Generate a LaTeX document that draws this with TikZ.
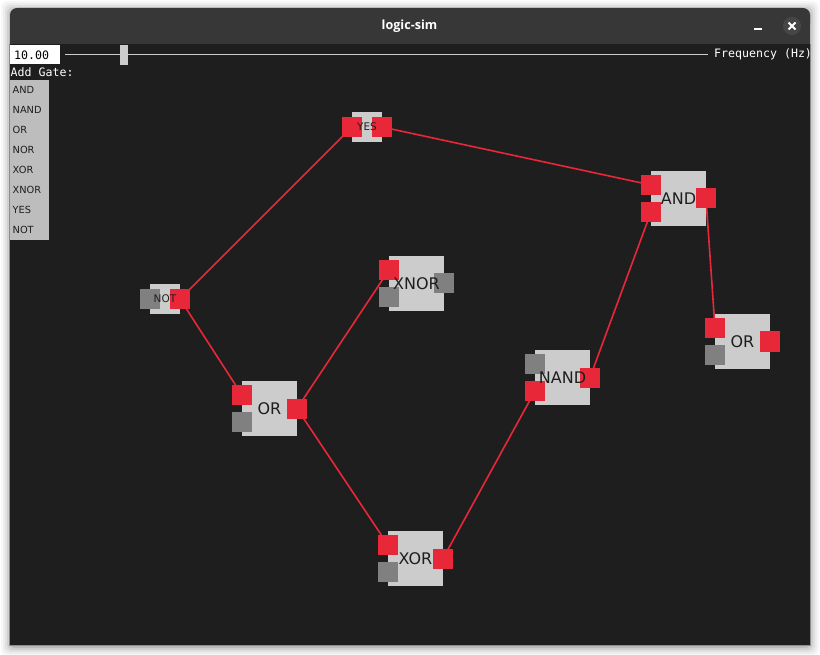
\documentclass[tikz,border=0pt]{standalone}
\usepackage{fontspec}
\setmainfont{DejaVu Sans}
\newfontfamily\monof{DejaVu Sans Mono}
\newfontfamily\titlef{Open Sans}
\pgfdeclarelayer{backl}
\pgfdeclarelayer{wirel}
\pgfsetlayers{backl,wirel,main}
\definecolor{winbg}{HTML}{1E1E1E}
\definecolor{titlebg}{HTML}{373737}
\definecolor{body}{HTML}{CCCCCC}
\definecolor{portred}{HTML}{E82838}
\definecolor{portgray}{HTML}{808080}
\definecolor{menubg}{HTML}{BDBDBD}
\definecolor{textdark}{HTML}{1E1E1E}
\tikzset{
  x=1pt,y=-1pt,
  gatebody/.style={fill=body,draw=none,inner sep=0pt,minimum size=55pt},
  smallbody/.style={gatebody,minimum size=30pt},
  on/.style={fill=portred,draw=none,inner sep=0pt,minimum size=20pt},
  off/.style={fill=portgray,draw=none,inner sep=0pt,minimum size=20pt},
  lab/.style={inner sep=0pt,text=textdark,font=\fontsize{16}{16}\selectfont},
  smalllab/.style={inner sep=0pt,text=textdark,font=\fontsize{10.5}{10.5}\selectfont},
  wire/.style={draw=portred,line width=1.6pt},
  menuitem/.style={inner sep=0pt,anchor=west,text=textdark,font=\fontsize{9.8}{11}\selectfont},
  mono/.style={inner sep=0pt,anchor=west,font=\monof\fontsize{11.6}{11.6}\selectfont},
}
\newcommand{\gate}[7]{%
  \node[gatebody] (#1) at (#3,#4) {};
  \node[#5] (#1a) at (#3-27.5,#4-13.5) {};
  \node[#6] (#1b) at (#3-27.5,#4+13.5) {};
  \node[#7] (#1o) at (#3+27.5,#4) {};
  \node[lab] (#1t) at (#3,#4) {#2};
}
\newcommand{\sgate}[6]{%
  \node[smallbody] (#1) at (#3,#4) {};
  \node[#5] (#1a) at (#3-15,#4) {};
  \node[#6] (#1o) at (#3+15,#4) {};
  \node[smalllab] (#1t) at (#3,#4) {#2};
}
\begin{document}
\begin{tikzpicture}
\useasboundingbox (0,0) rectangle (820,655);
\begin{pgfonlayer}{backl}
  \fill[white] (0,0) rectangle (820,655);
  \foreach \d/\o in {9/0.03,7/0.04,5/0.05,3/0.07,1/0.1}
    \fill[black,opacity=\o,rounded corners=6pt] (10-\d,8-\d+2) rectangle (810+\d,645+\d+2);
  \fill[titlebg,rounded corners=7pt] (10,8) rectangle (810,30);
  \fill[titlebg] (10,20) rectangle (810,44);
  \fill[winbg] (10,44) rectangle (810,645);
  \draw[color=gray!90,line width=0.6pt] (9.7,44) -- (9.7,645.3) -- (810.3,645.3) -- (810.3,44);
\end{pgfonlayer}

% title bar
\node[inner sep=0pt,text=white,font=\titlef\bfseries\fontsize{12.6}{13}\selectfont] (title) at (409.5,26) {logic-sim};
\fill[white] (754,28) rectangle (762,30);
\fill[gray!55!black] (792,26) circle (9);
\draw[white,line width=2pt] (788.5,22.5) -- (795.5,29.5) (795.5,22.5) -- (788.5,29.5);

% frequency control
\fill[white] (10,45) rectangle (60,64);
\node[mono,text=black] (freq) at (14,55.5) {10.00};
\draw[color=body,line width=1pt] (65,54.5) -- (708,54.5);
\fill[body] (120,45) rectangle (128,65);
\node[mono,text=white] (freqlab) at (714,54.5) {Frequency (Hz)};

% menu
\node[mono,text=white] (addgate) at (10.5,72.5) {Add Gate:};
\fill[menubg] (10,80) rectangle (49,240);
\foreach \t/\y in {AND/90,NAND/110,OR/130,NOR/150,XOR/170,XNOR/190,YES/210,NOT/230}
  \node[menuitem] (m\t) at (12.5,\y) {\t};

% gates
\sgate{yes}{YES}{367}{127}{on}{on}
\sgate{not}{NOT}{165}{299}{off}{on}
\gate{and}{AND}{678.5}{198.5}{on}{on}{on}
\gate{xnor}{XNOR}{416.5}{283.5}{on}{off}{off}
\gate{ora}{OR}{269.5}{408.5}{on}{off}{on}
\gate{orb}{OR}{742.5}{341.5}{on}{off}{on}
\gate{nand}{NAND}{562.5}{377.5}{off}{on}{on}
\gate{xor}{XOR}{415.5}{558.5}{on}{off}{on}

% wires
\begin{pgfonlayer}{wirel}
  \draw[wire] (noto.center) -- (yesa.center);
  \draw[wire] (yeso.center) -- (anda.center);
  \draw[wire] (ando.center) -- (orba.center);
  \draw[wire] (noto.center) -- (oraa.center);
  \draw[wire] (orao.center) -- (xnora.center);
  \draw[wire] (orao.center) -- (xora.center);
  \draw[wire] (xoro.center) -- (nandb.center);
  \draw[wire] (nando.center) -- (andb.center);
\end{pgfonlayer}
\end{tikzpicture}
\end{document}
